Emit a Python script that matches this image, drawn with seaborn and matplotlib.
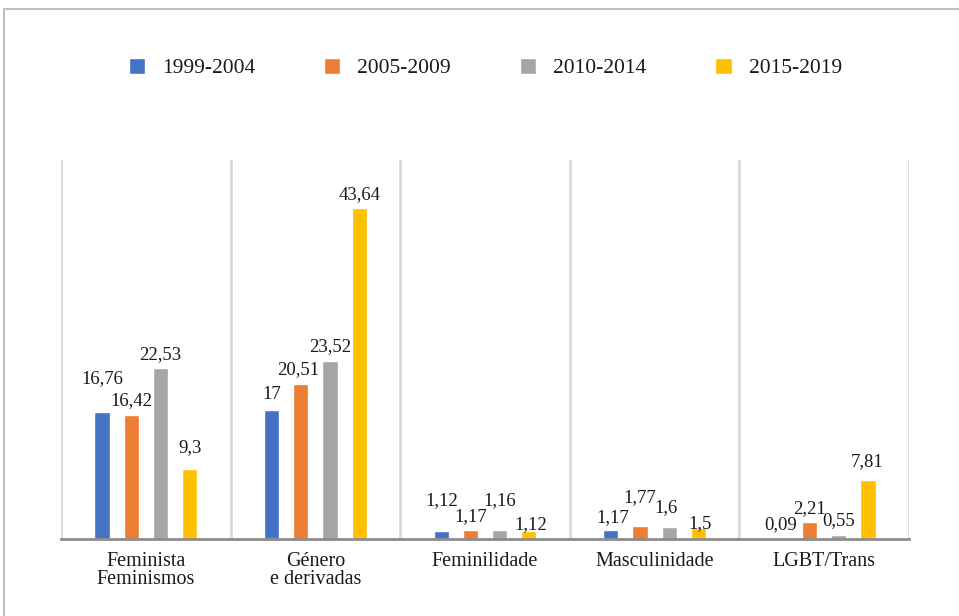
import matplotlib
matplotlib.use("Agg")
import matplotlib.pyplot as plt
import seaborn as sns
import pandas as pd
from matplotlib.patches import Rectangle

# data
categories = ["Feminista\nFeminismos", "Género\ne derivadas", "Feminilidade", "Masculinidade", "LGBT/Trans"]
periods = ["1999-2004", "2005-2009", "2010-2014", "2015-2019"]
v_1999_2004 = [16.76, 17, 1.12, 1.17, 0.09]
v_2005_2009 = [16.42, 20.51, 1.17, 1.77, 2.21]
v_2010_2014 = [22.53, 23.52, 1.16, 1.6, 0.55]
v_2015_2019 = [9.3, 43.64, 1.12, 1.5, 7.81]
colors = ["#4472C4", "#ED7D31", "#A5A5A5", "#FFC000"]

series = [v_1999_2004, v_2005_2009, v_2010_2014, v_2015_2019]
rows = []
for p, vals in zip(periods, series):
    for c, v in zip(categories, vals):
        rows.append({"cat": c, "period": p, "value": v})
df = pd.DataFrame(rows)

# label nudges (pixels) to mimic the original label placement
nudge = {
    (0, 0): (0, 33), (0, 3): (0, 21),
    (1, 0): (0, 16), (1, 1): (-3, 14),
    (2, 0): (1, 30), (2, 2): (0, 30), (2, 3): (2, 6),
    (3, 0): (2, 13), (3, 1): (0, 28), (3, 2): (-3, 19), (3, 3): (2, 4),
    (4, 3): (-1, 18),
}

sns.set_theme(style="white")
plt.rcParams["font.family"] = ["Liberation Serif", "DejaVu Serif"]

fig = plt.figure(figsize=(9.59, 6.16), dpi=100)
ax = fig.add_axes([61 / 959, 1 - 539 / 616, 848 / 959, 379 / 616])

sns.barplot(data=df, x="cat", y="value", hue="period", order=categories,
            hue_order=periods, palette=colors, width=0.69, gap=0.48,
            saturation=1, ax=ax, legend=True)

ax.set_ylim(0, 50)
ax.set_xlim(-0.5, len(categories) - 0.5)
ax.set_xlabel("")
ax.set_ylabel("")
ax.set_yticks([])
for s in ["top", "right", "left"]:
    ax.spines[s].set_visible(False)
ax.spines["bottom"].set_color("#8c8c8c")
ax.spines["bottom"].set_linewidth(2)
ax.tick_params(axis="x", length=0, pad=9, labelsize=14.5, labelcolor="#1a1a1a")
for t in ax.get_xticklabels():
    t.set_linespacing(0.95)

# separators between categories
for i in range(len(categories) + 1):
    ax.axvline(i - 0.5, color="#d9d9d9", linewidth=2, zorder=0)

# value labels
for j, cont in enumerate(ax.containers):
    for i, bar in enumerate(cont):
        h = bar.get_height()
        txt = ("%g" % h).replace(".", ",")
        dx, dy = nudge.get((i, j), (0, 14))
        ax.annotate(txt, (bar.get_x() + bar.get_width() / 2, h),
                    xytext=(dx, dy), textcoords="offset pixels",
                    ha="center", va="center", fontsize=13.5, color="#1a1a1a")

leg = ax.legend(loc="center", bbox_to_anchor=(0.506, 1 - 68 / 616),
                bbox_transform=fig.transFigure, ncol=4, frameon=False,
                fontsize=15.5, handlelength=0.75, handleheight=0.75,
                handletextpad=0.8, columnspacing=3.2)
for t in leg.get_texts():
    t.set_color("#1a1a1a")

# outer frame (only top and left edges visible)
fig.patches.append(Rectangle((4 / 959, -0.1), 2, 1.1 - 9 / 616,
                             transform=fig.transFigure, fill=False,
                             edgecolor="#bfbfbf", linewidth=1.5))

fig.savefig("out.png", dpi=100)
